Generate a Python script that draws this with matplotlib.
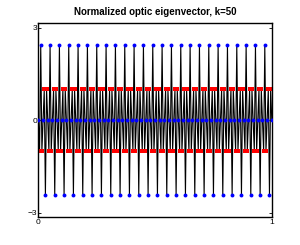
import numpy as np
import matplotlib
matplotlib.use("Agg")
import matplotlib.pyplot as plt
from matplotlib import font_manager

# one period (4 cells) of the optic mode
n_cells = 100
blue_period = [0.0, 2.43, 0.0, -2.43]   # atoms at x = n/N
red_period = [-1.0, -1.0, 1.0, 1.0]     # atoms at x = (n+1/2)/N
y_ticks = [-3, 0, 3]
x_ticks = [0, 1]

blue_y = np.append(np.tile(blue_period, n_cells // 4), blue_period[0])
red_y = np.tile(red_period, n_cells // 4)
blue_x = np.arange(n_cells + 1) / n_cells
red_x = (np.arange(n_cells) + 0.5) / n_cells

# chain order: blue, red, blue, red, ... blue
line_x = np.empty(2 * n_cells + 1)
line_y = np.empty(2 * n_cells + 1)
line_x[0::2], line_y[0::2] = blue_x, blue_y
line_x[1::2], line_y[1::2] = red_x, red_y

names = {f.name for f in font_manager.fontManager.ttflist}
narrow = 'Liberation Sans Narrow' in names
plt.rcParams['font.family'] = ['Liberation Sans Narrow' if narrow else 'Liberation Sans', 'DejaVu Sans']

fig = plt.figure(figsize=(3.0, 2.45), dpi=100)
ax = fig.add_axes([0.128, 0.113, 0.778, 0.792])

ax.plot(line_x, line_y, color='k', lw=0.8, zorder=1)
ax.plot(red_x, red_y, 's', color='#ff0000', ms=2.4, mew=0, zorder=2)
ax.plot(blue_x, blue_y, 'o', color='#0000ff', ms=2.8, mew=0, zorder=3)

ax.set_xlim(0, 1)
ax.set_ylim(-3.15, 3.15)
ax.set_xticks(x_ticks)
ax.set_yticks(y_ticks)
ax.tick_params(direction='in', length=2, width=0.6, labelsize=6, pad=1,
               right=True, top=True)
for s in ax.spines.values():
    s.set_linewidth(1.0)

ax.set_title('Normalized optic eigenvector, k=50', fontsize=8 if narrow else 7,
             fontweight='bold', pad=6)

fig.savefig('out.png', dpi=100)
